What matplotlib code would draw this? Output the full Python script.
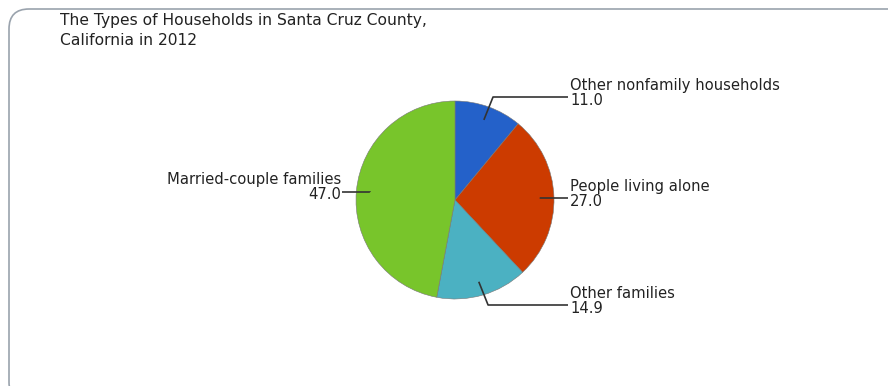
import numpy as np
import matplotlib
matplotlib.use("Agg")
import matplotlib.pyplot as plt
from matplotlib.patches import FancyBboxPatch

# data
labels = ["Other nonfamily households", "People living alone",
          "Other families", "Married-couple families"]
values = [11.0, 27.0, 14.9, 47.0]
colors = ["#2461c9", "#cc3b00", "#4bb1c2", "#78c52b"]
title = "The Types of Households in Santa Cruz County,\nCalifornia in 2012"

W, H = 888, 386
# y of each leader line (pixels from top) and side of the label
line_y = [97, 198, 305, 192]
side = [1, 1, 1, -1]

fig = plt.figure(figsize=(W / 100, H / 100), dpi=100)
ax = fig.add_axes([0, 0, 1, 1])

cx, cy, R = 455, H - 200, 99
wedges, _ = ax.pie(values, colors=colors, startangle=90, counterclock=False,
                   center=(cx, cy), radius=R,
                   wedgeprops=dict(linewidth=0.4, edgecolor="#777777"))
ax.set_xlim(0, W)
ax.set_ylim(0, H)
ax.axis("off")

# frame with rounded corner
frame = FancyBboxPatch((9, -16), W + 20, H - 9 + 16,
                       boxstyle="round,pad=0,rounding_size=20",
                       fill=False, edgecolor="#9aa3ad", linewidth=1.2,
                       clip_on=True)
ax.add_patch(frame)

ax.text(60, H - 13, title, fontsize=11.2, color="#222222", va="top",
        ha="left", linespacing=1.45)

for w, lab, v, ly, s in zip(wedges, labels, values, line_y, side):
    ang = np.deg2rad((w.theta1 + w.theta2) / 2)
    ax_x = cx + 0.86 * R * np.cos(ang)
    ax_y = cy + 0.86 * R * np.sin(ang)
    yy = H - ly
    ex = ax_x + s * 0.4 * abs(yy - ax_y)
    end_x = 568 if s > 0 else 342
    ax.plot([ax_x, ex, end_x], [ax_y, yy, yy], color="#333333", lw=1.2,
            solid_capstyle="butt")
    if s > 0:
        ax.text(end_x + 2, yy + 4, f"{lab}\n{v:.1f}", ha="left", va="center",
                fontsize=10.6, color="#222222", linespacing=1.0)
    else:
        ax.text(end_x - 1, yy + 5, f"{lab}\n{v:.1f}", ha="right", va="center",
                fontsize=10.6, color="#222222", linespacing=1.0,
                multialignment="right")

fig.savefig("out.png", dpi=100)
